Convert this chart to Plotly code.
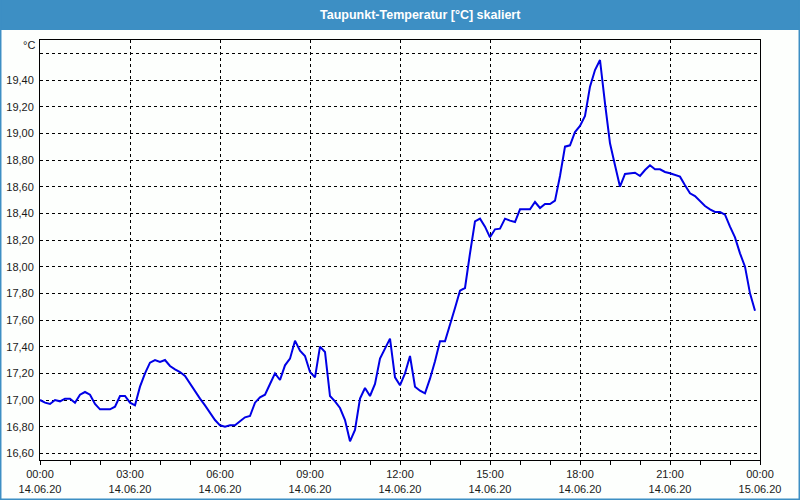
import pandas as pd
import plotly.graph_objects as go

# Dew point temperature readings, every 10 minutes from 14.06.20 00:00
start_time = "2020-06-14 00:00"
values = [
    17.00, 16.98, 16.97, 17.00, 16.99, 17.01, 17.01, 16.98, 17.04, 17.06,
    17.04, 16.97, 16.93, 16.93, 16.93, 16.95, 17.03, 17.03, 16.98, 16.96,
    17.10, 17.20, 17.28, 17.30, 17.285, 17.30, 17.255, 17.23, 17.21, 17.18,
    17.12, 17.06, 17.01, 16.96, 16.90, 16.85, 16.81, 16.80, 16.81, 16.81,
    16.84, 16.87, 16.88, 16.98, 17.02, 17.04, 17.12, 17.20, 17.15, 17.26,
    17.31, 17.445, 17.37, 17.33, 17.21, 17.17, 17.40, 17.36, 17.03, 16.99,
    16.94, 16.85, 16.69, 16.775, 17.01, 17.09, 17.03, 17.12, 17.31, 17.39,
    17.46, 17.17, 17.11, 17.20, 17.33, 17.10, 17.07, 17.05, 17.16, 17.29,
    17.44, 17.44, 17.575, 17.69, 17.82, 17.84, 18.10, 18.34, 18.36, 18.30,
    18.22, 18.28, 18.285, 18.36, 18.345, 18.335, 18.43, 18.43, 18.43, 18.485,
    18.44, 18.47, 18.47, 18.495, 18.68, 18.90, 18.91, 19.01, 19.055, 19.13,
    19.35, 19.475, 19.55, 19.225, 18.925, 18.76, 18.60, 18.695, 18.70, 18.705,
    18.68, 18.725, 18.76, 18.73, 18.73, 18.71, 18.70, 18.69, 18.675, 18.61,
    18.55, 18.53, 18.495, 18.455, 18.43, 18.41, 18.41, 18.39, 18.30, 18.22,
    18.10, 18.00, 17.80, 17.67,
]
times = pd.date_range(start_time, periods=len(values), freq="10min")

y_ticks = [16.6, 16.8, 17.0, 17.2, 17.4, 17.6, 17.8, 18.0, 18.2, 18.4, 18.6, 18.8, 19.0, 19.2, 19.4, 19.6]
y_labels = ["16,60", "16,80", "17,00", "17,20", "17,40", "17,60", "17,80", "18,00",
            "18,20", "18,40", "18,60", "18,80", "19,00", "19,20", "19,40", ""]

title = "Taupunkt-Temperatur [°C] skaliert"
unit = "°C"

font = "Liberation Sans"
blue_bar = "#3d8fc4"

fig = go.Figure()
fig.add_trace(go.Scatter(x=times, y=values, mode="lines",
                         line=dict(color="#0000e6", width=2), hoverinfo="skip"))

fig.update_layout(
    width=800, height=500,
    margin=dict(l=0, r=0, t=0, b=0),
    paper_bgcolor="#fdfffd", plot_bgcolor="#fdfffd",
    showlegend=False,
    font=dict(family=font, size=11, color="#1a1a1a"),
    xaxis=dict(
        domain=[40 / 800, 760 / 800], automargin=False,
        range=["2020-06-14 00:00", "2020-06-15 00:00"],
        tickmode="linear", tick0="2020-06-14 00:00", dtick=3 * 3600000,
        tickformat="%H:%M<br>%d.%m.%y",
        ticks="outside", ticklen=4, tickcolor="black",
        showgrid=True, gridcolor="black", griddash="3px,3px", gridwidth=1,
        showline=True, linecolor="black", linewidth=1, mirror=True,
        minor=dict(dtick=3600000, ticks="outside", ticklen=4, tickcolor="black", showgrid=False),
        zeroline=False, fixedrange=True,
        tickfont=dict(family=font, size=11),
    ),
    yaxis=dict(
        domain=[40 / 500, 460 / 500], automargin=False,
        range=[16.55, 19.70],
        tickmode="array", tickvals=y_ticks, ticktext=y_labels,
        ticks="", ticklabelstandoff=3,
        showgrid=True, gridcolor="black", griddash="3px,3px", gridwidth=1,
        showline=True, linecolor="black", linewidth=1, mirror=True,
        zeroline=False, fixedrange=True,
        tickfont=dict(family=font, size=11),
    ),
    shapes=[
        dict(type="rect", xref="paper", yref="paper", x0=0, x1=1, y0=470 / 500, y1=1,
             fillcolor=blue_bar, line=dict(width=0), layer="below"),
        dict(type="line", xref="paper", yref="paper", x0=0.0006, x1=0.0006, y0=0, y1=1,
             line=dict(color=blue_bar, width=2)),
        dict(type="line", xref="paper", yref="paper", x0=0.9994, x1=0.9994, y0=0, y1=1,
             line=dict(color=blue_bar, width=2)),
        dict(type="line", xref="paper", yref="paper", x0=0, x1=1, y0=0.001, y1=0.001,
             line=dict(color=blue_bar, width=2)),
    ],
    annotations=[
        dict(text="<b>" + title + "</b>", xref="paper", yref="paper", x=420 / 800, y=485 / 500,
             showarrow=False, xanchor="center", yanchor="middle",
             font=dict(family=font, size=12.5, color="white")),
        dict(text=unit, xref="paper", yref="paper", x=37 / 800, y=455 / 500,
             showarrow=False, xanchor="right", yanchor="middle",
             font=dict(family=font, size=11, color="#1a1a1a")),
    ],
)

fig.write_html("out.html")
